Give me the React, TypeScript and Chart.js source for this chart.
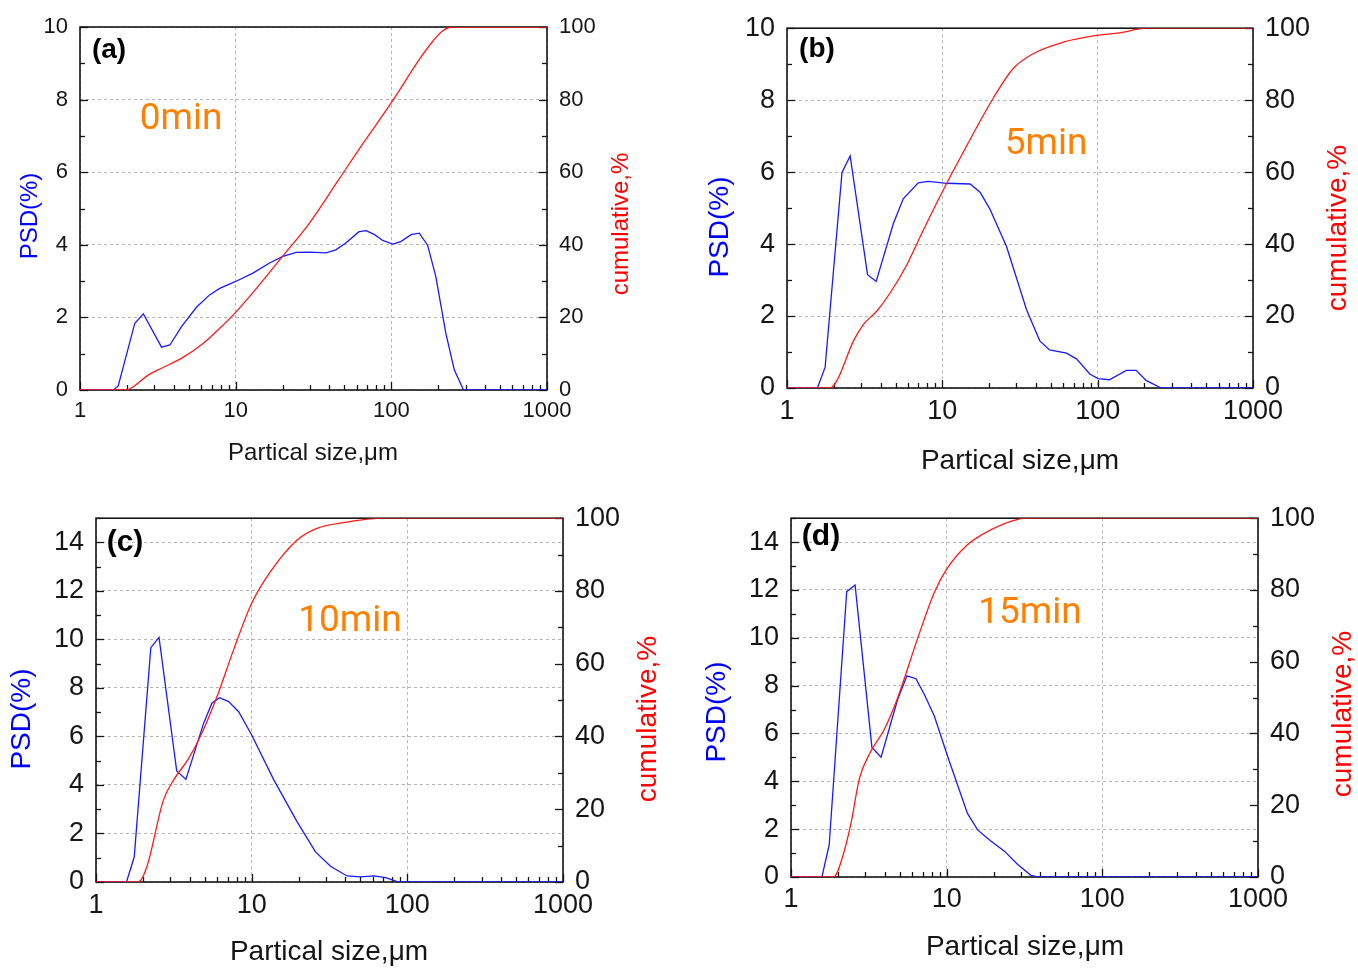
import { useEffect, useRef } from 'react';
import { Chart, registerables } from 'chart.js';

Chart.register(...registerables);

// ---------------- DATA ----------------
const xTickLabels = ['1', '10', '100', '1000'];
const psdTicksAB = [0, 2, 4, 6, 8, 10];
const psdTicksCD = [0, 2, 4, 6, 8, 10, 12, 14];
const cumTicks = [0, 20, 40, 60, 80, 100];

// (a) 0 min
const aPsdSize = [1, 1.64, 1.76, 2.25, 2.55, 3.34, 3.78, 4.5, 5.6, 6.8, 7.9, 10, 12.9, 16.5, 20.1, 24.5, 29.8, 38, 44, 51, 62, 69, 78, 88, 102, 115, 134, 151, 171, 193, 224, 254, 291, 1000];
const aPsd = [0, 0, 0.11, 1.84, 2.1, 1.18, 1.24, 1.75, 2.28, 2.62, 2.8, 2.99, 3.22, 3.5, 3.68, 3.79, 3.8, 3.78, 3.86, 4.05, 4.36, 4.39, 4.28, 4.12, 4.02, 4.09, 4.28, 4.32, 3.99, 3.13, 1.56, 0.55, 0, 0];
const aCumSize = [1, 1.99, 2.2, 2.74, 3.34, 4.48, 6.2, 7.9, 10, 13.6, 20, 29.8, 46, 65, 99.5, 151, 184, 213, 247, 1000];
const aCum = [0, 0, 0.9, 4.1, 6, 8.7, 12.9, 17, 21.4, 28, 36.8, 46, 58, 67.6, 79, 91, 96, 98.9, 100, 100];

// (b) 5 min
const bPsdSize = [1, 1.57, 1.76, 2.26, 2.55, 3.3, 3.75, 4.84, 5.6, 7.0, 8.1, 10.7, 15.1, 17.5, 20.2, 25.9, 34.8, 42.4, 49, 63, 73, 89, 100.5, 119, 153, 177, 205, 256, 1000];
const bPsd = [0, 0, 0.58, 5.99, 6.45, 3.15, 2.96, 4.57, 5.26, 5.7, 5.74, 5.69, 5.67, 5.44, 4.98, 3.93, 2.18, 1.31, 1.06, 0.97, 0.81, 0.39, 0.26, 0.23, 0.49, 0.49, 0.21, 0, 0];
const bCumSize = [1, 1.9, 2.1, 2.68, 3.11, 3.79, 4.61, 5.9, 7.55, 10.1, 14.3, 21.3, 28.6, 38.4, 59.9, 98, 138, 205, 1000];
const bCum = [0, 0, 2.1, 13.1, 17.7, 21.4, 26.4, 34.2, 43.9, 54.9, 67.2, 80.6, 88.8, 92.9, 96.1, 98, 98.7, 100, 100];

// (c) 10 min
const cPsdSize = [1, 1.57, 1.76, 2.25, 2.54, 3.3, 3.78, 4.91, 5.55, 6.22, 7.11, 8.25, 10, 13.9, 19.6, 25.7, 32.1, 41, 50, 61, 72.5, 88, 1000];
const cPsd = [0, 0, 1.03, 9.66, 10.09, 4.58, 4.23, 6.54, 7.37, 7.6, 7.44, 7.02, 6.06, 4.2, 2.48, 1.24, 0.65, 0.25, 0.21, 0.25, 0.18, 0, 0];
const cCumSize = [1, 1.87, 2.12, 2.71, 3.15, 3.93, 4.67, 5.98, 7.65, 10, 13.2, 19.6, 26.3, 39, 71, 1000];
const cCum = [0, 0, 4.1, 22.5, 28, 33.9, 39.9, 50.9, 63.8, 76.6, 85.3, 94, 97.2, 98.8, 100, 100];

// (d) 15 min
const dPsdSize = [1, 1.58, 1.76, 2.28, 2.58, 3.31, 3.79, 4.84, 5.56, 6.35, 7.19, 8.33, 10.1, 13.6, 15.8, 19.3, 23.5, 28.6, 34.8, 38.4, 1000];
const dPsd = [0, 0, 1.35, 11.93, 12.21, 5.42, 5.01, 7.42, 8.41, 8.29, 7.63, 6.73, 5.08, 2.66, 1.97, 1.49, 1.08, 0.52, 0.07, 0, 0];
const dCumSize = [1, 1.88, 2.15, 2.43, 2.75, 3.19, 3.98, 4.84, 6.51, 8.33, 10, 13.6, 19.3, 28.6, 34.8, 1000];
const dCum = [0, 0, 5.8, 15, 27.4, 34.3, 41.2, 49.9, 66.5, 79.3, 85.8, 92.6, 96.8, 99.7, 100, 100];

const panelLabels = ['(a)', '(b)', '(c)', '(d)'];
const timeLabels = ['0min', '5min', '10min', '15min'];
const psdTitle = 'PSD(%)';
const cumTitle = 'cumulative,%';
const xTitle = 'Partical size,\u03bcm';

// ---------------- STYLE / LAYOUT ----------------
const FONT = '"Liberation Sans", Arial, Helvetica, sans-serif';
const ANNO_FONT = 'Roboto, "Noto Sans", sans-serif';
const BLUE = '#1a1aff';
const RED = '#ff1a1a';
const ORANGE = '#ff8000';
const GRID = '#b4b4b4';
const INK = '#151515';

type Pt = [number, number];
type PanelDef = {
  canvas: { left: number; top: number; w: number; h: number };
  area: { l: number; t: number; r: number; b: number };
  yMax: number;
  yTicks: number[];
  tickSize: number;
  titleSize: number;
  labelSize: number;
  xPad: number;
  psdPos: Pt; cumPos: Pt; xTitlePos: Pt; labelPos: Pt; annoPos: Pt;
  psdSize: number[]; psd: number[]; cumSize: number[]; cum: number[];
  label: string; anno: string;
};

const panels: PanelDef[] = [
  {
    canvas: { left: 0, top: 0, w: 680, h: 480 }, area: { l: 80, t: 27, r: 547, b: 390 },
    yMax: 10, yTicks: psdTicksAB, tickSize: 22, titleSize: 24, labelSize: 28, xPad: 8,
    psdPos: [30, 216], cumPos: [621, 224], xTitlePos: [313, 453], labelPos: [109, 50], annoPos: [181, 120],
    psdSize: aPsdSize, psd: aPsd, cumSize: aCumSize, cum: aCum, label: panelLabels[0], anno: timeLabels[0],
  },
  {
    canvas: { left: 680, top: 0, w: 678, h: 480 }, area: { l: 787, t: 25, r: 1253, b: 388 },
    yMax: 10, yTicks: psdTicksAB, tickSize: 27, titleSize: 28, labelSize: 28, xPad: 7,
    psdPos: [720, 227], cumPos: [1338, 228], xTitlePos: [1020, 461], labelPos: [817, 49], annoPos: [1046, 145],
    psdSize: bPsdSize, psd: bPsd, cumSize: bCumSize, cum: bCum, label: panelLabels[1], anno: timeLabels[1],
  },
  {
    canvas: { left: 0, top: 490, w: 680, h: 479 }, area: { l: 96, t: 518, r: 563, b: 882 },
    yMax: 15, yTicks: psdTicksCD, tickSize: 27, titleSize: 28, labelSize: 30, xPad: 7,
    psdPos: [22, 719], cumPos: [648, 719], xTitlePos: [329, 952], labelPos: [125, 543], annoPos: [350, 622],
    psdSize: cPsdSize, psd: cPsd, cumSize: cCumSize, cum: cCum, label: panelLabels[2], anno: timeLabels[2],
  },
  {
    canvas: { left: 680, top: 490, w: 678, h: 479 }, area: { l: 791, t: 513, r: 1258, b: 877 },
    yMax: 15, yTicks: psdTicksCD, tickSize: 27, titleSize: 28, labelSize: 30, xPad: 6,
    psdPos: [717, 712], cumPos: [1343, 714], xTitlePos: [1025, 947], labelPos: [821, 537], annoPos: [1030, 614],
    psdSize: dPsdSize, psd: dPsd, cumSize: dCumSize, cum: dCum, label: panelLabels[3], anno: timeLabels[3],
  },
];

const isDecade = (v: number) => v > 0 && Math.abs(Math.log10(v) - Math.round(Math.log10(v))) < 1e-6;
const toPoints = (xs: number[], ys: number[]) => xs.map((x, i) => ({ x, y: ys[i] }));

const decorPlugin = {
  id: 'decor',
  beforeDatasetsDraw(chart: any) {
    const p: PanelDef = chart.options.plugins.decor.panel;
    const { ctx, chartArea: a, scales } = chart;
    const line = (x1: number, y1: number, x2: number, y2: number) => {
      ctx.beginPath(); ctx.moveTo(x1, y1); ctx.lineTo(x2, y2); ctx.stroke();
    };
    ctx.save();
    ctx.strokeStyle = INK;
    ctx.lineWidth = 1.3;
    // left inward ticks
    for (let v = 0; v <= p.yMax; v += 1) {
      const y = Math.round(scales.y.getPixelForValue(v)) + 0.5;
      line(a.left, y, a.left + (v % 2 === 0 ? 8 : 5), y);
    }
    // right inward ticks
    for (let v = 0; v <= 100; v += 10) {
      const y = Math.round(scales.y1.getPixelForValue(v)) + 0.5;
      line(a.right, y, a.right - (v % 20 === 0 ? 8 : 5), y);
    }
    // bottom inward ticks (log)
    for (let d = 1; d <= 1000; d *= 10) {
      for (let k = 1; k <= (d === 1000 ? 1 : 9); k++) {
        const x = Math.round(scales.x.getPixelForValue(d * k)) + 0.5;
        line(x, a.bottom, x, a.bottom - (k === 1 ? 8 : 5));
      }
    }
    ctx.lineWidth = 1.6;
    ctx.strokeRect(a.left, a.top, a.right - a.left, a.bottom - a.top);
    ctx.restore();
  },
  afterDraw(chart: any) {
    const p: PanelDef = chart.options.plugins.decor.panel;
    const { ctx } = chart;
    const ox = p.canvas.left, oy = p.canvas.top;
    const text = (s: string, pos: Pt, font: string, color: string, rot = 0) => {
      ctx.save();
      ctx.translate(pos[0] - ox, pos[1] - oy);
      if (rot) ctx.rotate(rot);
      ctx.font = font;
      ctx.fillStyle = color;
      ctx.textAlign = 'center';
      ctx.textBaseline = 'middle';
      ctx.fillText(s, 0, 0);
      ctx.restore();
    };
    text(psdTitle, p.psdPos, `${p.titleSize}px ${FONT}`, '#0000ff', -Math.PI / 2);
    text(cumTitle, p.cumPos, `${p.titleSize}px ${FONT}`, '#ff0000', -Math.PI / 2);
    text(xTitle, p.xTitlePos, `${p.titleSize}px ${FONT}`, INK);
    text(p.label, p.labelPos, `bold ${p.labelSize}px ${FONT}`, '#000');
    text(p.anno, p.annoPos, `37px ${ANNO_FONT}`, ORANGE);
  },
};

function PanelChart({ p }: { p: PanelDef }) {
  const ref = useRef<HTMLCanvasElement>(null);
  useEffect(() => {
    const leftW = p.area.l - p.canvas.left;
    const rightW = p.canvas.left + p.canvas.w - p.area.r;
    const padTop = p.area.t - p.canvas.top;
    const xH = p.canvas.top + p.canvas.h - p.area.b;
    const tickFont = { family: FONT, size: p.tickSize };
    const chart = new Chart(ref.current as HTMLCanvasElement, {
      type: 'line',
      data: {
        datasets: [
          {
            label: 'cumulative', data: toPoints(p.cumSize, p.cum), yAxisID: 'y1',
            borderColor: RED, borderWidth: 1.3, pointRadius: 0, cubicInterpolationMode: 'monotone',
          },
          {
            label: 'PSD', data: toPoints(p.psdSize, p.psd), yAxisID: 'y',
            borderColor: BLUE, borderWidth: 1.3, pointRadius: 0, tension: 0,
          },
        ],
      },
      options: {
        animation: false,
        responsive: false,
        events: [],
        layout: { padding: { top: padTop, left: 0, right: 0, bottom: 0 } },
        plugins: {
          legend: { display: false },
          tooltip: { enabled: false },
          decor: { panel: p },
        } as any,
        scales: {
          x: {
            type: 'logarithmic', position: 'bottom', min: 1, max: 1000,
            afterFit: (s: any) => { s.height = xH; },
            grid: {
              drawTicks: false, lineWidth: 1,
              color: (c: any) => (c.tick && isDecade(c.tick.value) ? GRID : 'rgba(0,0,0,0)'),
            },
            border: { display: false, dash: [3, 3] },
            ticks: {
              autoSkip: false, maxRotation: 0, minRotation: 0, padding: p.xPad,
              font: tickFont, color: INK,
              callback: (v: any) => {
                const s = String(Math.round(Number(v)));
                return isDecade(Number(v)) && xTickLabels.includes(s) ? s : '';
              },
            },
          },
          y: {
            type: 'linear', position: 'left', min: 0, max: p.yMax,
            afterFit: (s: any) => { s.width = leftW; },
            afterBuildTicks: (s: any) => { s.ticks = p.yTicks.map((v) => ({ value: v })); },
            grid: { drawTicks: false, color: GRID, lineWidth: 1 },
            border: { display: false, dash: [3, 3] },
            ticks: { padding: 12, font: tickFont, color: INK },
          },
          y1: {
            type: 'linear', position: 'right', min: 0, max: 100,
            afterFit: (s: any) => { s.width = rightW; },
            afterBuildTicks: (s: any) => { s.ticks = cumTicks.map((v) => ({ value: v })); },
            grid: { display: false, drawTicks: false },
            border: { display: false },
            ticks: { padding: 12, font: tickFont, color: INK },
          },
        },
      } as any,
      plugins: [decorPlugin as any],
    });
    return () => chart.destroy();
  }, [p]);
  return (
    <canvas
      ref={ref}
      width={p.canvas.w}
      height={p.canvas.h}
      style={{ position: 'absolute', left: p.canvas.left, top: p.canvas.top, width: p.canvas.w, height: p.canvas.h }}
    />
  );
}

export default function App() {
  return (
    <div style={{ position: 'absolute', left: 0, top: 0, width: 1358, height: 969, background: '#fff' }}>
      {panels.map((p, i) => (
        <PanelChart key={i} p={p} />
      ))}
    </div>
  );
}
